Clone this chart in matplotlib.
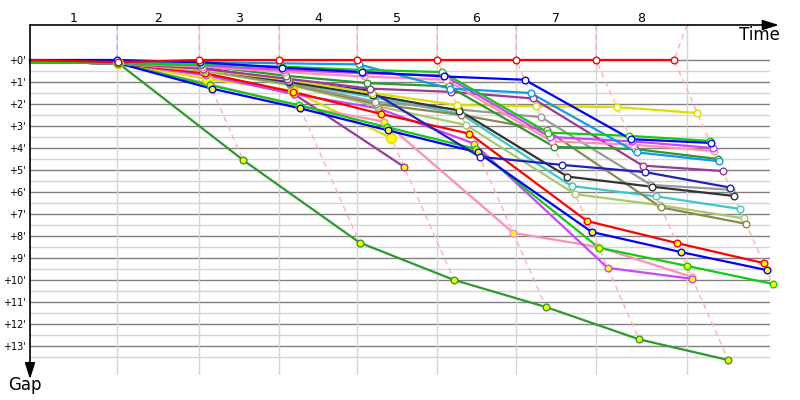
import numpy as np
import matplotlib
matplotlib.use('Agg')
import matplotlib.pyplot as plt

# leader lap times (minutes) and end of race on the time axis
lap_times = [8.97, 8.45, 8.25, 8.04, 8.25, 8.14, 8.25, 8.04]
race_end = 67.73
lap_labels = ['1', '2', '3', '4', '5', '6', '7', '8']
gap_ticks = list(range(0, 14))

# gap to leader (minutes) at start and at the end of each lap
gaps_red = [0, 0.1, 0, 0, 0, 0, 0, 0, 0]
gaps_blue = [0, 0, 0.1, 0.35, 0.55, 0.75, 0.9, 3.6, 3.77]
gaps_lime = [0.1, 0.15, 0.2, 0.3, 0.45, 0.55, 3.3, 3.45, 3.68]
gaps_dodger = [0.1, 0.15, 0.1, 0.15, 0.2, 1.3, 1.5, 4.2, 4.6]
gaps_violet = [0.1, 0.15, 0.25, 0.45, 0.6, 0.7, 3.5, 3.7, 4.0]
gaps_pink = [0.1, 0.15, 0.3, 0.55, 0.75, 0.9, 3.7, 3.85, 4.14]
gaps_forest = [0.1, 0.15, 0.25, 0.72, 1.05, 1.2, 3.95, 4.05, 4.5]
gaps_purple = [0.1, 0.15, 0.4, 0.85, 1.3, 1.45, 1.75, 4.8, 5.05]
gaps_yellow = [0.1, 0.15, 0.45, 0.9, 1.5, 2.05, 2.1, 2.14, 2.41]
gaps_navy = [0.1, 0.15, 0.35, 0.95, 1.4, 4.4, 4.77, 5.1, 5.8]
gaps_black = [0.1, 0.15, 0.4, 1.0, 1.6, 2.3, 5.3, 5.76, 6.18]
gaps_gray = [0.1, 0.15, 0.45, 1.05, 1.9, 2.25, 2.6, 5.68, 5.9]
gaps_olive = [0.1, 0.15, 0.45, 1.1, 2.0, 2.5, 3.2, 6.7, 7.45]
gaps_lolive = [0.1, 0.15, 0.5, 1.15, 2.1, 2.95, 6.1, 6.6, 7.2]
gaps_turq = [0.1, 0.15, 0.45, 1.0, 1.7, 2.45, 5.73, 6.2, 6.77]
gaps_red2 = [0.1, 0.15, 0.6, 1.45, 2.45, 3.35, 7.32, 8.32, 9.23]
gaps_blue2 = [0.1, 0.15, 1.3, 2.2, 3.2, 4.2, 7.82, 8.73, 9.55]
gaps_lime2 = [0.1, 0.15, 1.15, 2.05, 3.05, 4.05, 8.53, 9.36, 10.18]
gaps_violet2 = [0.1, 0.15, 0.7, 1.55, 2.2, 3.8, 9.45, 9.95]
gaps_pink2 = [0.1, 0.15, 1.1, 2.1, 2.8, 7.86, 8.5, 9.86]
gaps_dgreen = [0.1, 0.15, 4.55, 8.3, 10.0, 11.23, 12.7, 13.64]
gaps_yellow2 = [0.1, 0.15, 0.86, 1.4, 3.55]
gaps_purple2 = [0.1, 0.15, 0.64, 1.55, 4.86]

series = [gaps_red, gaps_blue, gaps_lime, gaps_dodger, gaps_violet, gaps_pink,
          gaps_forest, gaps_purple, gaps_yellow, gaps_navy, gaps_black, gaps_gray,
          gaps_olive, gaps_lolive, gaps_turq, gaps_red2, gaps_blue2, gaps_lime2,
          gaps_violet2, gaps_pink2, gaps_dgreen, gaps_yellow2, gaps_purple2]
colors = ['#ff0000', '#0000ff', '#11cc11', '#1199ee', '#cc44ff', '#ff8fb0',
          '#2a9a2a', '#9a3a9a', '#dddd00', '#2222bb', '#333333', '#999999',
          '#8a8a50', '#a9c96b', '#3cc8c8', '#ff0000', '#0000ff', '#11cc11',
          '#cc44ff', '#ff8fb0', '#2d9a2d', '#dddd00', '#9a3a9a']
fills = ['white'] * 15 + ['#ffff00'] * 8
sizes = [4.8] * 21 + [7, 4.8]

cum = np.concatenate([[0], np.cumsum(lap_times)])

fig = plt.figure(figsize=(8, 4), dpi=100)
ax = fig.add_axes([30 / 800, 25 / 400, 740 / 800, 350 / 400])
ax.set_xlim(0, 76.29)
ax.set_ylim(14.32, -1.59)

# grid
for g in np.arange(0.5, 14, 1):
    ax.axhline(g, color='#d4d4d4', lw=1, zorder=1)
for g in gap_ticks:
    ax.axhline(g, color='#808080', lw=1, zorder=1)
grid_x = list(cum[1:8]) + [race_end]
for x in grid_x:
    ax.axvline(x, color='#d4d4d4', lw=1, zorder=1)

# lap lines (dashed)
for k in range(1, 9):
    pts = sorted((cum[k] + s[k], s[k]) for s in series if len(s) > k)
    xs = [grid_x[k - 1]] + [p[0] for p in pts]
    ys = [-1.59] + [p[1] for p in pts]
    c = '#b0b0ff' if k == 1 else '#ffb0b0'
    ax.plot(xs, ys, color=c, lw=1, ls=(0, (4, 3)), zorder=2, clip_on=False)

# drivers
for s, c, f, m in reversed(list(zip(series, colors, fills, sizes))):
    xs = [cum[i] + g for i, g in enumerate(s)]
    ax.plot(xs, s, color=c, lw=1.6, zorder=3, clip_on=False, solid_joinstyle='round')
    ax.plot(xs[1:], s[1:], 'o', ms=m, mfc=f, mec=c, mew=1, zorder=4, clip_on=False)

for sp in ax.spines.values():
    sp.set_visible(False)
ax.set_xticks([])
ax.set_yticks(gap_ticks)
ax.set_yticklabels([f"+{g}'" for g in gap_ticks], fontsize=7)
ax.tick_params(axis='y', length=0, pad=3)

# axes arrows
ax.annotate('', xy=(1.012, 1), xycoords='axes fraction', xytext=(0, 1),
            textcoords='axes fraction', annotation_clip=False,
            arrowprops=dict(arrowstyle='-|>,head_length=0.7,head_width=0.22',
                            mutation_scale=14, color='black', lw=1.2, shrinkA=0, shrinkB=0))
ax.annotate('', xy=(0, -0.012), xycoords='axes fraction', xytext=(0, 1),
            textcoords='axes fraction', annotation_clip=False,
            arrowprops=dict(arrowstyle='-|>,head_length=0.7,head_width=0.22',
                            mutation_scale=14, color='black', lw=1.2, shrinkA=0, shrinkB=0))

bounds = [0] + grid_x
trans = ax.get_xaxis_transform()
for i, lab in enumerate(lap_labels):
    ax.text((bounds[i] + bounds[i + 1]) / 2, 1.02, lab, transform=trans,
            ha='center', va='center', fontsize=9)

ax.text(0.986, 0.971, 'Time', transform=ax.transAxes, ha='center', va='center', fontsize=12)
ax.text(-0.007, -0.029, 'Gap', transform=ax.transAxes, ha='center', va='center', fontsize=12)

fig.savefig('out.png', dpi=100)
